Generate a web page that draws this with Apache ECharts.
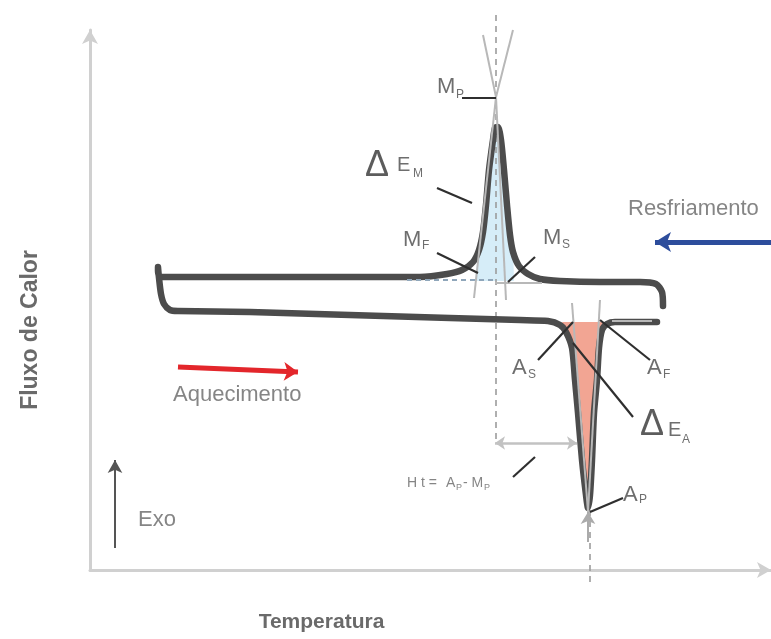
<!DOCTYPE html>
<html>
<head>
<meta charset="utf-8">
<script src="https://cdn.jsdelivr.net/npm/echarts@6/dist/echarts.min.js"></script>
<style>
html,body{margin:0;padding:0;background:#fff}
#chart{width:771px;height:639px}
</style>
</head>
<body>
<div id="chart"></div>
<script>
// curva DSC esquematica: resfriamento (pico M) e aquecimento (vale A)
var coolingTrace = [
  [573,264],[572,278],[566,286],[550,288],[510,288],[470,289],[450,291],[438,296],
  [429,304],[423,318],[420,335],[417,365],[414,400],[411,430],[408,443],[405,442],
  [403,430],[399,400],[396,365],[393,338],[389,320],[383,308],[372,300],[357,296],
  [330,293],[210,293],[80,293],[70,293],[68,299],[68,303]
];
var heatingTrace = [
  [69,292],[71,276],[74,266],[80,260],[88,259],[160,258],[260,255],[360,252],[430,250],
  [458,249],[470,245],[476,238],[482,222],[485,190],[488,157],[492,110],[496,75],
  [498,62],[500,75],[502,110],[504,157],[507,190],[509,222],[512,240],[517,246],
  [525,248],[567,248]
];
var peakFill = [
  [385,289],[389,320],[393,338],[396,365],[399,400],[403,430],[405,442],[408,443],
  [411,430],[414,400],[417,365],[420,335],[423,318],[424,289]
];
var valleyFill = [
  [472,248],[476,238],[482,222],[485,190],[488,157],[492,110],[496,75],[498,62],
  [500,75],[502,110],[504,157],[507,190],[509,222],[512,240],[516,248]
];
var peakBase = 289;
var valleyBase = 248;

var dashedLines = [
  [[406,555],[406,130]],
  [[500,60],[500,-12]]
];
var baseLines = [
  [[317,290],[406,290]]
];
var tangentLines = [
  [[423,540],[406,473]], [[406,473],[384,272]],
  [[393,535],[406,473]], [[406,473],[416,270]],
  [[405,287],[452,287]],
  [[482,267],[498,58]], [[510,270],[498,58]],
  [[522,249],[562,249]]
];
var tickLines = [
  [[372,472],[406,472]],
  [[347,382],[382,367]],
  [[347,317],[388,297]],
  [[445,313],[418,288]],
  [[448,210],[483,248]],
  [[560,210],[510,250]],
  [[543,153],[483,227]],
  [[533,72],[500,58]],
  [[423,93],[445,113]]
];
// setas: [inicio, fim, estilo]
var arrows = [
  [[405,127],[487,127],'ht'],
  [[498,28],[498,58],'tip'],
  [[681,328],[565,328],'blue'],
  [[88,203],[208,198],'red'],
  [[25,22],[25,110],'exo']
];
var notes = [
  [347,483,'M','big'], [366,475,'P','sub'],
  [313,330,'M','big'], [332,324,'F','sub'],
  [453,332,'M','big'], [472,325,'S','sub'],
  [287,404,'Δ','delta'], [307,405,'E','e'], [323,396,'M','sub'],
  [422,202,'A','big'], [438,195,'S','sub'],
  [557,202,'A','big'], [573,195,'F','sub'],
  [562,145,'Δ','delta'], [578,140,'E','e'], [592,130,'A','sub'],
  [533,75,'A','big'], [549,70,'P','sub'],
  [317,87,'H t =','ht'], [356,87,'A','ht'], [366,82,'P','htsub'],
  [373,87,'- M','ht'], [394,82,'P','htsub'],
  [538,361,'Resfriamento','word'],
  [83,175,'Aquecimento','word'],
  [48,50,'Exo','word']
];

var FONT = 'Liberation Sans, Arial, sans-serif';
var textKinds = {
  big:   {fontSize: 22, color: '#4a4a4a'},
  sub:   {fontSize: 12, color: '#4a4a4a'},
  delta: {fontSize: 36, color: '#333333'},
  e:     {fontSize: 20, color: '#4a4a4a'},
  ht:    {fontSize: 14, color: '#666666'},
  htsub: {fontSize: 9,  color: '#666666'},
  word:  {fontSize: 22, color: '#666666'}
};
var arrowKinds = {
  ht:   {color: '#c2c2c2', width: 2.5, size: [10, 10], both: true},
  tip:  {color: '#ababab', width: 2, size: [11, 12], both: false},
  blue: {color: '#2d4d9c', width: 5, size: [15, 16], both: false},
  red:  {color: '#e3262b', width: 5, size: [14, 14], both: false},
  exo:  {color: '#555555', width: 2, size: [11, 13], both: false}
};

function segSeries(list, style) {
  return list.map(function (pts) {
    return {
      type: 'line', data: pts, symbol: 'none', silent: true, clip: false,
      animation: false, lineStyle: style
    };
  });
}

var series = [];
series.push({
  type: 'line', data: peakFill, smooth: 0.25, symbol: 'none', silent: true,
  clip: false, animation: false, lineStyle: {width: 0, opacity: 0},
  areaStyle: {color: '#d6edf8', opacity: 1, origin: peakBase}
});
series.push({
  type: 'line', data: valleyFill, smooth: 0.25, symbol: 'none', silent: true,
  clip: false, animation: false, lineStyle: {width: 0, opacity: 0},
  areaStyle: {color: '#f2a593', opacity: 1, origin: valleyBase}
});
series = series.concat(segSeries(dashedLines, {color: '#9c9c9c', width: 1.6, type: [6, 5]}));
series.push({
  type: 'line', data: coolingTrace.concat(heatingTrace), smooth: 0.25, symbol: 'none',
  silent: true, clip: false, animation: false,
  lineStyle: {color: '#4c4c4c', width: 6.5, cap: 'round', join: 'round'}
});
series = series.concat(segSeries(baseLines, {color: '#8fa6ba', width: 2, type: [5, 4]}));
series = series.concat(segSeries(tangentLines, {color: '#b8b8b8', width: 2}));
series = series.concat(segSeries(tickLines, {color: '#2f2f2f', width: 2.2}));

series.push({
  type: 'line', data: [], silent: true, animation: false,
  markLine: {
    silent: true, animation: false, label: {show: false},
    data: arrows.map(function (a) {
      var k = arrowKinds[a[2]];
      return [
        {coord: a[0], symbol: k.both ? 'arrow' : 'none', symbolSize: k.size,
         lineStyle: {color: k.color, width: k.width, type: 'solid'}},
        {coord: a[1], symbol: 'arrow', symbolSize: k.size}
      ];
    })
  }
});

series.push({
  type: 'scatter', symbolSize: 0, silent: true, animation: false, clip: false,
  data: notes.map(function (n) {
    var k = textKinds[n[3]];
    return {
      value: [n[0], n[1]],
      label: {
        show: true, formatter: n[2], fontFamily: FONT,
        fontSize: k.fontSize, color: k.color,
        position: n[3] === 'delta' ? 'inside' : 'right', distance: 0,
        align: n[3] === 'delta' ? 'center' : 'left', verticalAlign: 'middle'
      }
    };
  })
});

var axisLineStyle = {color: '#d0d0d0', width: 3};
var option = {
  animation: false,
  grid: {left: 90, right: 0, top: 30, bottom: 69},
  xAxis: {
    type: 'value', min: 0, max: 681,
    axisLine: {show: true, lineStyle: axisLineStyle, symbol: ['none', 'arrow'], symbolSize: [12, 14]},
    axisTick: {show: false}, axisLabel: {show: false}, splitLine: {show: false},
    name: 'Temperatura', nameLocation: 'middle', nameGap: 42,
    nameTextStyle: {fontFamily: FONT, fontSize: 21, fontWeight: 'bold', color: '#6a6a6a', padding: [0, 218, 0, 0]}
  },
  yAxis: {
    type: 'value', min: 0, max: 540,
    axisLine: {show: true, lineStyle: axisLineStyle, symbol: ['none', 'arrow'], symbolSize: [12, 14]},
    axisTick: {show: false}, axisLabel: {show: false}, splitLine: {show: false},
    name: 'Fluxo de Calor', nameLocation: 'middle', nameGap: 48, nameRotate: 90,
    nameTextStyle: {fontFamily: FONT, fontSize: 23, fontWeight: 'bold', color: '#6a6a6a', padding: [0, 60, 0, 0]}
  },
  series: series
};

var chart = echarts.init(document.getElementById('chart'));
chart.setOption(option);
</script>
</body>
</html>
